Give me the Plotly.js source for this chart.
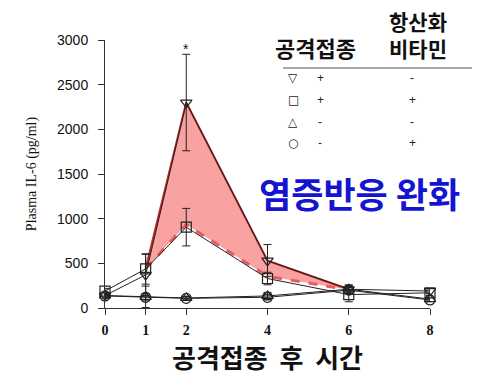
<!DOCTYPE html>
<html>
<head>
<meta charset="utf-8">
<script src="https://cdn.plot.ly/plotly-3.0.1.min.js"></script>
<style>html,body{margin:0;padding:0;background:#fff;}#chart{width:484px;height:387px;}</style>
</head>
<body>
<div id="chart"></div>
<script>
// Hours after challenge
const hours = [0, 1, 2, 4, 6, 8];
// Plasma IL-6 (pg/ml) per group
const infectedNoVit = [140, 370, 2300, 530, 210, 190];   // ▽  + / -
const infectedNoVitErr = [30, 230, 540, 180, 50, 30];
const infectedVit = [190, 437, 905, 330, 150, 170];      // □  + / +
const infectedVitErr = [30, 170, 210, 70, 80, 30];
const controlNoVit = [140, 125, 112, 135, 210, 100];     // △  - / -
const controlNoVitErr = [20, 120, 20, 40, 40, 20];
const controlVit = [135, 120, 108, 120, 200, 90];        // ○  - / +
const controlVitErr = [20, 40, 20, 30, 40, 20];
// Highlighted band (attenuated inflammation)
const bandHours = [1, 2, 4, 6];
const bandTop = [440, 2300, 530, 210];
const bandBottom = [440, 935, 355, 205];
// Legend table
const legendSymbols = ['▽', '□', '△', '○'];
const legendChallenge = ['+', '+', '-', '-'];
const legendVitamin = ['-', '+', '-', '+'];
const yTicks = [0, 500, 1000, 1500, 2000, 2500, 3000];
const xTicks = [0, 1, 2, 4, 6, 8];

const lineCol = '#222';
function group(y, err, symbol) {
  return {
    x: hours, y: y, type: 'scatter', mode: 'lines+markers',
    line: {color: lineCol, width: 1},
    marker: {symbol: symbol, size: 10, color: lineCol, line: {width: 1.2, color: lineCol}},
    error_y: {type: 'data', array: err, visible: true, color: lineCol, thickness: 1, width: 4},
    showlegend: false, hoverinfo: 'skip', cliponaxis: false
  };
}
const traces = [
  {x: bandHours, y: bandTop, type: 'scatter', mode: 'lines', line: {color: '#b82828', width: 2}, showlegend: false, hoverinfo: 'skip'},
  {x: bandHours, y: bandBottom, type: 'scatter', mode: 'lines', fill: 'tonexty', fillcolor: 'rgba(245,105,105,0.62)',
   line: {color: '#e45c5c', width: 3, dash: 'dash'}, showlegend: false, hoverinfo: 'skip'},
  group(controlVit, controlVitErr, 'circle-open'),
  group(controlNoVit, controlNoVitErr, 'triangle-up-open'),
  group(infectedVit, infectedVitErr, 'square-open'),
  group(infectedNoVit, infectedNoVitErr, 'triangle-down-open')
];

const kr = '"Noto Sans CJK KR", "Noto Sans", sans-serif';
function px(x) { return (x - 105) / 325; }
function py(y) { return (308 - y) / 268; }
const annotations = [
  {xref: 'x', yref: 'y', x: 2, y: 2900, text: '*', showarrow: false, font: {family: 'Liberation Sans', size: 14, color: '#111'}},
  {xref: 'paper', yref: 'paper', x: px(359), y: py(193), xanchor: 'center', yanchor: 'middle', text: '<b>염증반응 완화</b>', showarrow: false,
   font: {family: kr, size: 35, color: '#1414d2'}},
  {xref: 'paper', yref: 'paper', x: px(315), y: py(47), xanchor: 'center', yanchor: 'middle', text: '<b>공격접종</b>', showarrow: false,
   font: {family: kr, size: 22, color: '#111'}},
  {xref: 'paper', yref: 'paper', x: px(418), y: py(34), xanchor: 'center', yanchor: 'middle', text: '<b>항산화<br>비타민</b>', showarrow: false,
   font: {family: kr, size: 21, color: '#111'}}
];
const rowY = [78, 100, 122, 143];
for (let i = 0; i < legendSymbols.length; i++) {
  annotations.push({xref: 'paper', yref: 'paper', x: px(293), y: py(rowY[i]), xanchor: 'center', yanchor: 'middle', showarrow: false,
    text: legendSymbols[i], font: {family: 'DejaVu Sans', size: 12, color: '#222'}});
  annotations.push({xref: 'paper', yref: 'paper', x: px(320), y: py(rowY[i]), xanchor: 'center', yanchor: 'middle', showarrow: false,
    text: legendChallenge[i], font: {family: 'Liberation Sans', size: 12, color: '#222'}});
  annotations.push({xref: 'paper', yref: 'paper', x: px(412), y: py(rowY[i]), xanchor: 'center', yanchor: 'middle', showarrow: false,
    text: legendVitamin[i], font: {family: 'Liberation Sans', size: 12, color: '#222'}});
}

const layout = {
  width: 484, height: 387,
  margin: {l: 105, r: 54, t: 40, b: 79},
  paper_bgcolor: '#fff', plot_bgcolor: '#fff',
  xaxis: {
    range: [0, 8], tickvals: xTicks, ticktext: xTicks.map(String),
    showgrid: false, zeroline: false, showline: true, linecolor: '#333', linewidth: 1,
    ticks: 'outside', ticklen: 6, tickcolor: '#333', ticklabelstandoff: 3,
    tickfont: {family: 'Liberation Serif', size: 14, color: '#111', weight: 'bold'},
    title: {text: '<b>공격접종\u00a0\u00a0후\u00a0\u00a0시간</b>', font: {family: kr, size: 26, color: '#111'}, standoff: 10}
  },
  yaxis: {
    range: [0, 3000], tickvals: yTicks, ticktext: yTicks.map(String),
    showgrid: false, zeroline: false, showline: true, linecolor: '#333', linewidth: 1,
    ticks: 'outside', ticklen: 6, tickcolor: '#333', ticklabelstandoff: 7,
    tickfont: {family: 'Liberation Sans', size: 14, color: '#111'},
    title: {text: 'Plasma IL-6 (pg/ml)', font: {family: 'Liberation Serif', size: 14, color: '#111'}, standoff: 17}
  },
  annotations: annotations,
  shapes: [
    {type: 'line', xref: 'paper', yref: 'paper', x0: px(283), x1: px(472), y0: py(68), y1: py(68),
     line: {color: '#555', width: 1}}
  ]
};
Plotly.newPlot('chart', traces, layout, {displayModeBar: false, staticPlot: true});
</script>
</body>
</html>
